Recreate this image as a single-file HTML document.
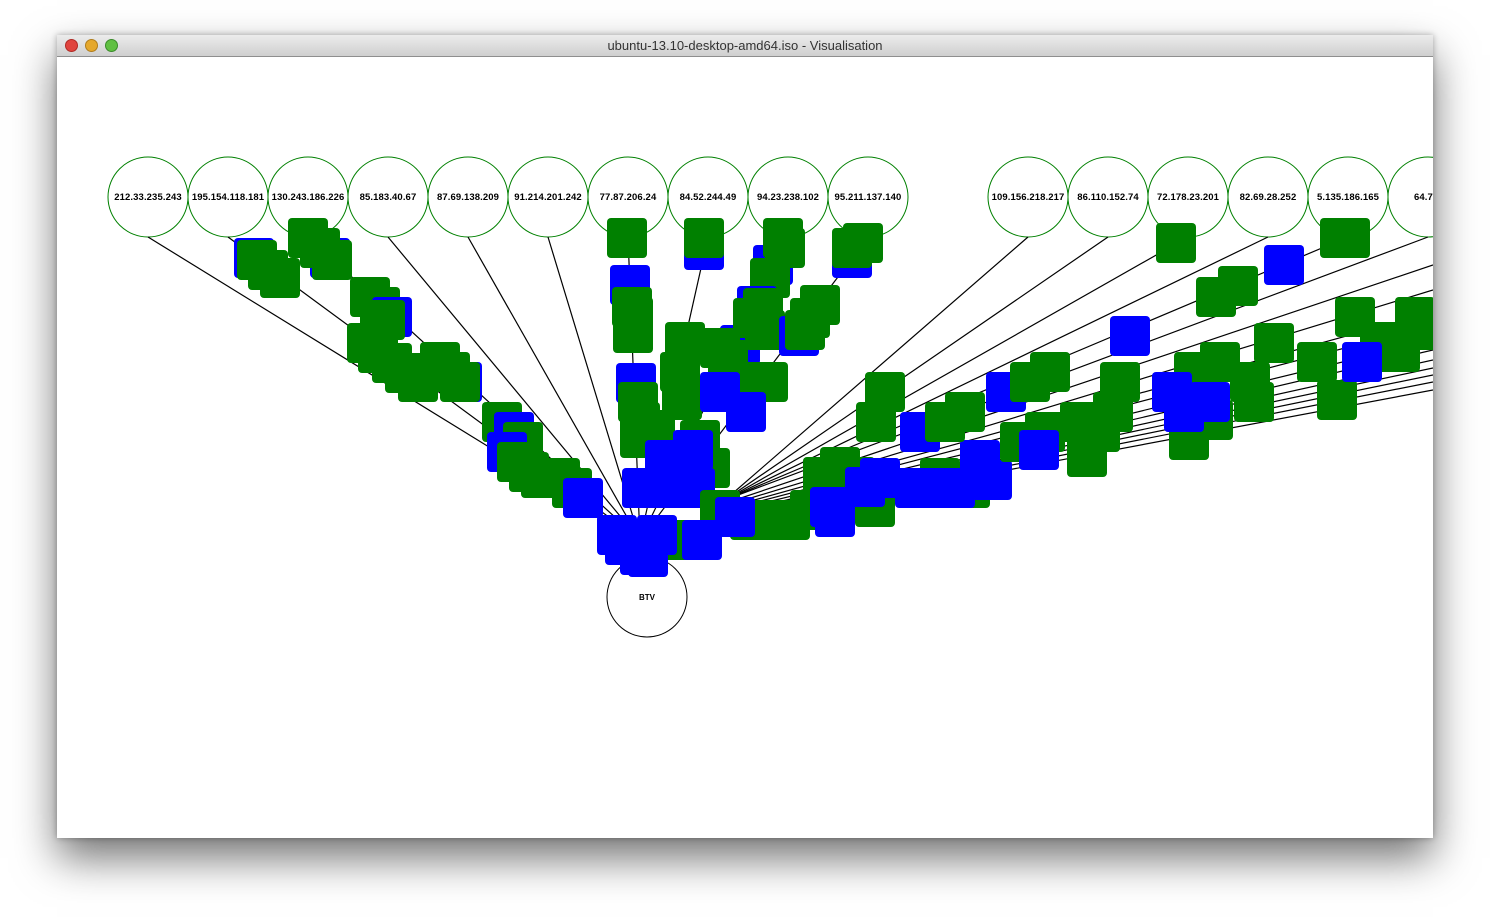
<!DOCTYPE html>
<html><head><style>
html,body{margin:0;padding:0;background:#fff;width:1490px;height:917px;overflow:hidden}
.win{position:absolute;left:57px;top:35px;width:1376px;height:803px;background:#fff;box-shadow:0 20px 40px rgba(0,0,0,0.55),0 0 6px rgba(0,0,0,0.3);overflow:hidden}
.tb{position:absolute;left:0;top:0;width:1376px;height:21px;background:linear-gradient(#ececec,#cfcfcf);border-bottom:1px solid #8e8e8e;font:13px "Liberation Sans",sans-serif;color:#333;text-align:center;line-height:22px}
.d{position:absolute;top:4px;width:12px;height:12px;border-radius:50%}
svg{position:absolute;left:0;top:22px}
</style></head><body>
<div class="win">
<div class="tb">ubuntu-13.10-desktop-amd64.iso - Visualisation
<div class="d" style="left:8px;background:#e0443e;border:1px solid #b02a25;width:11px;height:11px"></div>
<div class="d" style="left:28px;background:#e5a82c;border:1px solid #b07d1c;width:11px;height:11px"></div>
<div class="d" style="left:48px;background:#60c042;border:1px solid #3a8b2a;width:11px;height:11px"></div>
</div>
<svg width="1376" height="781" viewBox="57 57 1376 781" id="s"></svg>
</div>
<script>
const s=document.getElementById('s');let h='';
const cx=[148,228,308,388,468,548,628,708,788,868,1028,1108,1188,1268,1348,1428];
const lb=['212.33.235.243','195.154.118.181','130.243.186.226','85.183.40.67','87.69.138.209','91.214.201.242','77.87.206.24','84.52.244.49','94.23.238.102','95.211.137.140','109.156.218.217','86.110.152.74','72.178.23.201','82.69.28.252','5.135.186.165','64.71.1'];
cx.forEach((x,i)=>{h+=`<ellipse cx="${x}" cy="197" rx="40" ry="40" fill="none" stroke="#008000" stroke-width="1"/>`;
h+=`<text x="${x}" y="200" font-family="Liberation Sans" font-size="9.5" font-weight="bold" letter-spacing="0.1" text-anchor="${i==15?'start':'middle'}" ${i==15?'dx="-14"':''}>${lb[i]}</text>`;
const tx=i<10?640:725,ty=i<10?540:500;h+=`<line x1="${x}" y1="237" x2="${tx}" y2="${ty}" stroke="#000" stroke-width="1.2"/>`;});
[265,290,312,325,340,350,360,368,375,382,390].forEach((y,k)=>h+=`<line x1="1433" y1="${y}" x2="${735+k*6}" y2="${500+k}" stroke="#000" stroke-width="1.2"/>`);
h+=`<circle cx="647" cy="597" r="40" fill="#fff" stroke="#000"/><text x="647" y="600" font-family="Liberation Sans" font-size="8" font-weight="bold" text-anchor="middle">BTV</text>`;
const G='g',B='b';
const q=[[B,234,238],[G,237,240],[G,248,250],[G,260,258],[B,310,238],[G,288,218],[G,300,228],[G,312,240],
[G,350,277],[G,360,287],[B,372,297],[G,365,300],[G,347,323],[G,358,333],[G,372,343],[G,385,353],[G,398,362],[B,442,362],[G,420,342],[G,430,352],[G,440,362],
[G,482,402],[B,494,412],[G,503,422],[B,487,432],[G,497,442],[G,509,452],[G,521,458],[G,540,458],[G,552,468],[B,563,478],
[G,607,218],[B,610,265],[G,612,287],[G,613,297],[G,613,313],[G,665,322],[G,660,352],[G,662,380],[B,720,325],[G,700,328],[G,708,340],[G,712,362],[G,730,362],[G,748,362],[B,616,363],[G,618,382],[G,620,402],[G,620,418],[G,635,410],[G,680,420],[G,690,448],[B,700,372],[B,726,392],
[B,684,230],[G,684,218],[B,753,245],[G,763,218],[G,765,228],[G,750,258],[B,737,286],[G,743,288],[G,733,298],[G,745,310],
[B,779,316],[G,800,285],[G,790,298],[G,785,310],[B,832,238],[G,832,228],[G,843,223],
[B,645,440],[B,673,430],[B,622,468],[B,650,468],[B,675,468],
[G,620,530],[G,660,520],[G,700,490],[G,730,500],[G,750,500],[G,770,500],[G,790,490],[B,597,515],[B,605,525],[B,620,535],[B,628,537],[B,637,515],[B,682,520],[B,715,497],
[G,803,457],[G,820,447],[G,835,457],[G,855,487],[B,810,487],[B,815,497],[B,845,467],[B,860,458],[G,920,458],[G,950,468],[B,895,468],[B,915,468],[B,935,468],[B,960,440],[B,972,460],
[G,865,372],[G,856,402],[B,900,412],[G,925,402],[G,945,392],[B,986,372],[G,1010,362],[G,1030,352],[B,1110,316],[G,1100,362],[G,1060,402],[G,1080,412],[G,1093,392],[G,1067,437],[G,1000,422],[G,1025,412],[B,1019,430],
[G,1156,223],[G,1196,277],[G,1218,266],[B,1264,245],[G,1320,218],[G,1330,218],[G,1254,323],[G,1335,297],[G,1297,342],[G,1317,380],[G,1395,297],[G,1400,310],[G,1370,322],[G,1380,332],[G,1360,332],[B,1342,342],
[G,1169,420],[G,1193,400],[G,1230,362],[G,1234,382],[G,1174,352],[G,1200,342],[B,1152,372],[B,1164,392],[B,1190,382]];
q.forEach(([c,x,y])=>h+=`<rect x="${x}" y="${y}" width="40" height="40" rx="4" fill="${c=='g'?'#008000':'#0000ff'}"/>`);
s.innerHTML=h;
</script>
</body></html>
